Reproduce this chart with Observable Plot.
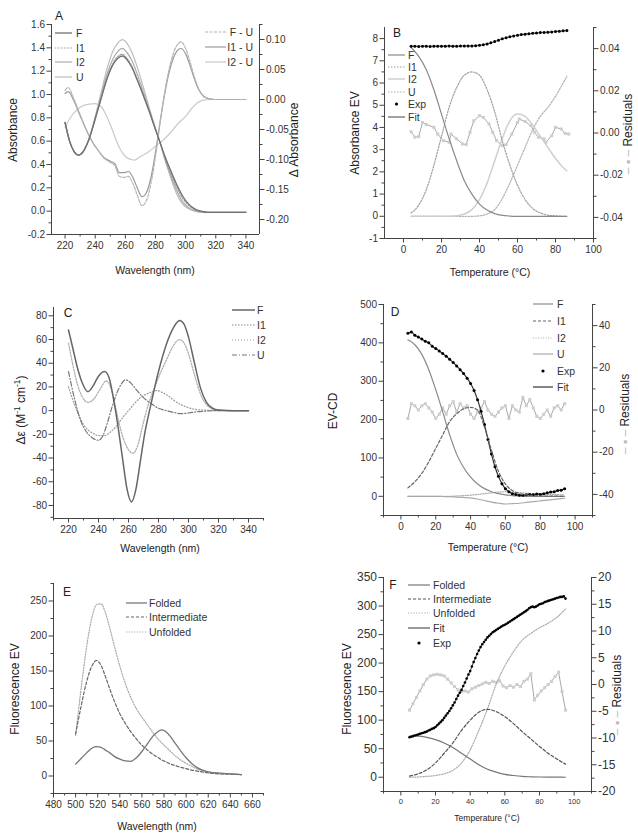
<!DOCTYPE html>
<html><head><meta charset="utf-8">
<script src="https://cdn.jsdelivr.net/npm/d3@7"></script>
<script src="https://cdn.jsdelivr.net/npm/@observablehq/plot@0.6"></script>
<style>
html,body{margin:0;padding:0;background:#fff;}
#fig{position:relative;width:638px;height:837px;overflow:hidden;background:#fff;font-family:"Liberation Sans",Arial,Helvetica,sans-serif;color:#222;}
#fig > svg{position:absolute;}
.lbl{position:absolute;white-space:nowrap;line-height:1;}
.samp{color:#b8b8b8;}
</style></head><body><div id="fig"></div>
<script>
// ================= DATA =================
// ---- Panel A : absorbance spectra (left axis) and difference spectra (right axis)
const wlA   = [220,223,226,229,232,236,240,244,248,252,255,258,261,264,268,272,276,280,283,286,290,294,298,302,306,310,315,320,330,340];
const absF  = [0.76,0.60,0.51,0.48,0.51,0.62,0.79,0.97,1.14,1.26,1.31,1.33,1.30,1.24,1.12,0.99,0.85,0.70,0.59,0.48,0.35,0.23,0.13,0.06,0.02,0.00,-0.01,-0.01,-0.01,-0.01];
const absI1 = [0.76,0.60,0.51,0.48,0.51,0.62,0.79,0.97,1.15,1.27,1.325,1.345,1.31,1.25,1.13,0.99,0.85,0.70,0.59,0.47,0.33,0.21,0.11,0.05,0.015,0.00,-0.01,-0.01,-0.01,-0.01];
const absI2 = [0.76,0.60,0.51,0.48,0.51,0.62,0.80,0.99,1.18,1.31,1.37,1.395,1.36,1.30,1.17,1.02,0.86,0.70,0.59,0.46,0.31,0.18,0.08,0.03,0.005,-0.005,-0.01,-0.01,-0.01,-0.01];
const absU  = [0.76,0.60,0.51,0.48,0.51,0.63,0.81,1.02,1.23,1.38,1.44,1.47,1.44,1.37,1.23,1.06,0.88,0.71,0.59,0.45,0.29,0.15,0.06,0.02,0.00,-0.01,-0.01,-0.01,-0.01,-0.01];
const wlDiff = [220,222,226,230,234,238,242,246,250,253,256,259,262,265,268,271,274,277,280,283,286,289,292,295,297,300,303,306,309,312,316,320,330,340];
const diffFU  = [0.015,0.02,0,-0.025,-0.05,-0.07,-0.085,-0.098,-0.105,-0.11,-0.128,-0.13,-0.128,-0.14,-0.16,-0.177,-0.168,-0.14,-0.095,-0.04,0.01,0.05,0.078,0.093,0.096,0.085,0.062,0.036,0.016,0.006,0.001,0,0,0];
const diffI1U = [0.01,0.013,-0.003,-0.027,-0.05,-0.07,-0.085,-0.097,-0.103,-0.107,-0.122,-0.122,-0.12,-0.13,-0.148,-0.162,-0.155,-0.13,-0.088,-0.038,0.008,0.045,0.07,0.083,0.085,0.076,0.056,0.033,0.015,0.005,0.001,0,0,0];
const wlDiff2 = [220,225,230,235,240,244,248,252,256,260,264,266,270,275,280,285,290,295,300,304,308,312,316,320,330,340];
const diffI2U = [-0.046,-0.025,-0.013,-0.008,-0.007,-0.012,-0.03,-0.055,-0.08,-0.095,-0.1,-0.101,-0.095,-0.088,-0.078,-0.068,-0.055,-0.04,-0.028,-0.015,-0.005,-0.001,0,0,0,0];
const xTicksA = [220,240,260,280,300,320,340], xMinorA = [230,250,270,290,310,330];
const yTicksA = [-0.2,0,0.2,0.4,0.6,0.8,1.0,1.2,1.4,1.6], yMinorA = [-0.1,0.1,0.3,0.5,0.7,0.9,1.1,1.3,1.5];
const rTicksA = [-0.2,-0.15,-0.1,-0.05,0,0.05,0.1], rMinorA = [-0.175,-0.125,-0.075,-0.025,0.025,0.075,0.125];

// ---- Panel B : absorbance EV vs temperature
const tB   = [4,8,12,16,20,24,28,32,36,40,44,48,52,56,60,64,68,72,76,80,84,86];
const bF   = [7.6,7.2,6.6,5.7,4.6,3.5,2.5,1.6,1.0,0.55,0.28,0.12,0.04,0.01,0,0,0,0,0,0,0,0];
const bI1  = [0.15,0.5,1.2,2.3,3.6,4.9,5.8,6.35,6.5,6.35,5.7,4.7,3.4,2.3,1.4,0.75,0.35,0.15,0.05,0.02,0,0];
const bI2  = [0,0,0,0,0,0,0.02,0.1,0.3,0.75,1.5,2.5,3.5,4.3,4.6,4.5,4.1,3.6,3.1,2.6,2.2,2.05];
const bU   = [0,0,0,0,0,0,0,0,0,0.02,0.1,0.3,0.8,1.5,2.3,3.1,3.9,4.5,4.9,5.4,6.0,6.3];
const tExpB = [4,6,8,10,12,14,16,18,20,22,24,26,28,30,32,34,36,38,40,42,44,46,48,50,52,54,56,58,60,62,64,66,68,70,72,74,76,78,80,82,84,86];
const expB  = [7.66,7.66,7.65,7.66,7.66,7.65,7.66,7.66,7.66,7.66,7.67,7.66,7.66,7.67,7.67,7.67,7.67,7.68,7.70,7.72,7.76,7.81,7.87,7.93,7.99,8.04,8.08,8.12,8.15,8.18,8.20,8.22,8.24,8.25,8.27,8.28,8.29,8.30,8.32,8.33,8.35,8.36];
const tResB = [4,6,8,10,12,16,18,21,24,25,28,31,33,35,37,40,42,45,47,49,52,54,57,60,61,64,67,69,71,74,75,78,80,83,85,87];
const resB  = [0.0006,-0.002,-0.0017,0.005,0.004,0.0027,-0.0005,-0.0036,-0.0044,-0.0005,-0.0028,-0.0052,-0.0055,0.0003,0.0058,0.0082,0.0074,0.0043,0.0003,-0.0036,-0.006,-0.0055,-0.0005,0.005,0.0066,0.0055,0.0035,0.0003,-0.002,-0.0028,-0.0044,-0.0013,0.0027,0.0019,-0.0002,-0.0005];
const xTicksB = [0,20,40,60,80,100], xMinorB = [10,30,50,70,90];
const yTicksB = [-1,0,1,2,3,4,5,6,7,8], yMinorB = [-0.5,0.5,1.5,2.5,3.5,4.5,5.5,6.5,7.5];
const rTicksB = [-0.04,-0.02,0,0.02,0.04], rMinorB = [-0.05,-0.03,-0.01,0.01,0.03,0.05];

// ---- Panel C : CD spectra
const wlC  = [220,223,226,229,233,236,240,244,247,250,252,256,259,262,265,268,271,274,277,280,285,290,294,297,300,304,308,312,316,320,330,340];
const cF   = [68,52,36,24,16,20,29,33,28,10,-5,-40,-66,-77,-66,-42,-18,0,17,33,55,70,76,73,62,40,19,7,2,0.5,0,0];
const wlC1 = [220,223,226,229,233,237,241,245,248,251,254,257,260,263,266,269,272,276,280,285,290,294,297,300,304,308,312,316,320,330,340];
const cI1  = [57,38,22,12,7,10,18,25,20,5,-12,-25,-33,-36,-30,-15,0,15,28,42,55,60,57,48,30,14,5,1.5,0.5,0,0];
const wlC2 = [220,224,228,232,236,240,244,248,252,256,260,264,268,272,276,279,283,287,291,295,300,305,310,320,330,340];
const cI2  = [20,5,-7,-15,-19,-21,-21,-18,-13,-6,0,6,11,14,16,17,15,12,8,5,2.5,1,0.5,0,0,0];
const wlCU = [220,224,228,232,236,240,243,246,249,252,255,258,261,265,270,275,280,285,290,295,300,305,310,320,330,340];
const cU   = [33,10,-8,-18,-23,-25,-21,-10,3,14,22,26,24,18,11,6,2,0,-1.5,-2.5,-2,-1,-0.5,0,0,0];
const xTicksC = [220,240,260,280,300,320,340], xMinorC = [210,230,250,270,290,310,330,350];
const yTicksC = [-80,-60,-40,-20,0,20,40,60,80], yMinorC = [-90,-70,-50,-30,-10,10,30,50,70];

// ---- Panel D : EV-CD vs temperature
const tD   = [4,8,12,16,20,24,28,32,36,40,44,48,52,56,60,64,68,72,76,80,84,88,92,94];
const dF   = [408,395,370,330,278,220,160,110,75,50,32,20,12,7,4,2,1,0,0,0,0,0,0,0];
const dI1  = [22,38,60,90,125,160,195,215,228,232,225,180,120,65,32,15,7,4,2,1,0.5,0.5,0,0];
const dI2  = [0,0,0,0,0,0,0,1,2,3,5,7,9,11,12,11,10,8,7,6,5,5,4,4];
const dU   = [0,0,0,0,0,-0.5,-1,-2,-3,-4,-7,-11,-15,-18,-20,-19,-18,-16,-14,-12,-10,-8,-6,-5];
const tExpD = [4,6,8,10,12,14,16,18,20,22,24,26,28,30,32,34,36,38,40,42,44,46,48,50,52,54,56,58,60,62,64,66,68,70,72,74,76,78,80,82,84,86,88,90,92,94];
const expD  = [425,428,420,415,410,404,400,391,385,379,372,365,357,349,340,330,320,308,294,276,252,222,187,148,110,77,52,33,20,12,7,5,3,3,4,5,4,6,5,7,9,11,12,15,16,20];
const resD  = [-4,3,2,0,2,3,1,-1,-4,-2,1,-2,2,4,-1,3,1,2,-2,-4,-1,1,4,0,-2,-3,-1,1,2,-4,2,0,-1,6,2,5,1,-3,-4,-2,0,-3,1,2,0,3];
const xTicksD = [0,20,40,60,80,100], xMinorD = [-10,10,30,50,70,90,110];
const yTicksD = [0,100,200,300,400,500], yMinorD = [-50,50,150,250,350,450];
const rTicksD = [-40,-20,0,20,40], rMinorD = [-50,-30,-10,10,30,50];

// ---- Panel E : fluorescence spectra
const wlE   = [500,505,510,515,519,523,527,531,535,540,545,550,555,560,565,570,575,578,582,586,590,595,600,605,610,620,630,640,650];
const eFold = [17,25,33,40,42,41,37,33,28,24,21.5,21,26,35,46,57,64,66,63,56,47,36,26,18,12,6,4,3,2];
const eInt  = [60,100,135,158,165,158,142,124,107,89,75,63,53,44,37,31,26,23,20,17,15,12.5,10.5,8.5,7,4.5,3,2.5,2];
const eUnf  = [58,125,185,228,245,246,233,211,186,157,132,112,96,84,73,62,52,47,41,35,29,23,18,14,10,6,4,3,2];
const xTicksE = [480,500,520,540,560,580,600,620,640,660], xMinorE = [490,510,530,550,570,590,610,630,650,670];
const yTicksE = [0,50,100,150,200,250], yMinorE = [-25,25,75,125,175,225,275];

// ---- Panel F : fluorescence EV vs temperature
const tF    = [5,10,15,20,25,30,35,40,45,50,55,60,65,70,75,80,85,90,95];
const fFold = [72,72,70,66,60,52,42,32,22,14,9,5,3,1.5,0.8,0.4,0.2,0.1,0];
const fInt  = [2,6,13,25,42,60,82,100,114,119,115,106,94,80,67,54,42,32,23];
const fUnf  = [0,0.5,1.5,3,6,12,25,48,82,120,163,195,220,240,252,262,270,280,295];
const tExpF = [5,6,7,8,9,10,11,12,13,14,15,16,17,18,19,20,21,22,23,24,25,26,27,28,29,30,31,32,33,34,35,36,37,38,39,40,41,42,43,44,45,46,47,48,49,50,51,52,53,54,55,56,57,58,59,60,61,62,63,64,65,66,67,68,69,70,71,72,73,74,75,76,77,78,79,80,81,82,83,84,85,86,87,88,89,90,91,92,93,94,95];
const expF  = [70,71,72,73,74,75,76,77,78,79,
               80,82,83,85,86,88,91,94,97,100,
               104,108,112,116,121,126,131,137,143,148,
               153,160,166,173,180,186,194,202,209,216,
               222,228,233,237,241,245,248,251,254,256,
               258,260,262,264,266,267,269,271,273,275,
               277,279,281,283,285,287,289,291,293,296,
               298,299,298,299,301,303,304,305,307,308,
               309,310,311,312,313,314,315,316,316,317,
               313];
const tResF = [5,7,9,11,13,15,17,19,21,23,25,27,29,31,33,35,37,39,41,43,45,47,49,51,53,55,57,59,61,63,65,67,69,71,73,75,77,79,81,83,85,87,89,91,93,95];
const resF  = [-4.8,-3.6,-2.4,-1.2,0,1.0,1.6,1.8,1.9,1.8,
               1.6,1.0,0.3,-0.4,-1.0,-1.3,-1.2,-1.4,-0.8,-0.5,
               -0.2,0.1,0.4,0.2,0.6,0.4,0.7,-0.3,-0.6,-0.2,
               -0.5,0.0,-0.4,0.6,1.0,2.0,-2.9,-2.0,-1.2,-0.6,
               0.0,0.6,1.5,2.3,-1.3,-4.8];
const xTicksF = [0,20,40,60,80,100], xMinorF = [-10,10,30,50,70,90,110];
const yTicksF = [0,50,100,150,200,250,300,350], yMinorF = [-25,25,75,125,175,225,275,325];
const rTicksF = [-20,-15,-10,-5,0,5,10,15,20], rMinorF = [-17.5,-12.5,-7.5,-2.5,2.5,7.5,12.5,17.5];

// ================= DRAWING =================
const fig = document.getElementById("fig");
const FONT = '"Liberation Sans", Arial, Helvetica, sans-serif';
const M = {l: 40, r: 40, t: 8, b: 30};
const AX = "#444";

function pts(xs, ys) { return xs.map((x, i) => ({x, y: ys[i]})); }
function ln(xs, ys, s) {
  return Plot.line(pts(xs, ys), {x: "x", y: "y", stroke: s.stroke, strokeWidth: s.w ?? 1.2,
    strokeDasharray: s.dash ?? null, curve: s.curve ?? "monotone-x"});
}
function dots(xs, ys, r = 1.4, fill = "#000", symbol = "circle") {
  return Plot.dot(pts(xs, ys), {x: "x", y: "y", r, fill, symbol});
}
function resid(xs, ys) {
  return [Plot.line(pts(xs, ys), {x: "x", y: "y", stroke: "#a8a8a8", strokeWidth: 1}),
          Plot.dot(pts(xs, ys), {x: "x", y: "y", r: 1.7, fill: "#cdcdcd", symbol: "square"})];
}
function put(svg, p) {
  svg.style.left = (p.fx[0] - M.l) + "px";
  svg.style.top = (p.fy[0] - M.t) + "px";
  fig.append(svg);
}
function panel(p) {
  const W = p.fx[1] - p.fx[0] + M.l + M.r;
  const H = p.fy[1] - p.fy[0] + M.t + M.b;
  const base = {width: W, height: H, marginLeft: M.l, marginRight: M.r, marginTop: M.t, marginBottom: M.b,
    style: {background: "transparent", fontFamily: FONT, fontSize: "10px", color: "#333", overflow: "visible"}};
  if (p.rDomain) {
    const r = Plot.plot({...base, x: {domain: p.xDomain, axis: null}, y: {domain: p.rDomain},
      marks: [
        ...p.rMarks,
        Plot.ruleX([p.xDomain[1]], {stroke: AX}),
        Plot.axisY(p.rMinor, {anchor: "right", tickSize: 2.5, tickFormat: () => "", label: null, stroke: AX}),
        Plot.axisY(p.rMajor, {anchor: "right", tickSize: 4.5, tickPadding: 2, tickFormat: p.rFmt, label: null, stroke: AX, fontSize: p.rFont ?? 10})]});
    put(r, p);
  }
  const m = Plot.plot({...base, x: {domain: p.xDomain}, y: {domain: p.yDomain},
    marks: [
      ...p.marks,
      Plot.ruleX([p.xDomain[0]], {stroke: AX}),
      Plot.ruleY([p.yDomain[0]], {stroke: AX}),
      Plot.axisX(p.xMinor, {tickSize: 2.5, tickFormat: () => "", label: null, stroke: AX}),
      Plot.axisX(p.xMajor, {tickSize: 4.5, tickPadding: 3, tickFormat: d => String(d), label: null, stroke: AX, fontSize: p.xFont ?? 10}),
      Plot.axisY(p.yMinor, {tickSize: 2.5, tickFormat: () => "", label: null, stroke: AX}),
      Plot.axisY(p.yMajor, {tickSize: 4.5, tickPadding: 2, tickFormat: p.yFmt ?? (d => String(d)), label: null, stroke: AX, fontSize: p.yFont ?? 10})]});
  put(m, p);
}

// styles
const S = {
  aF: {stroke: "#707070", w: 1.3}, aI1: {stroke: "#9a9a9a", dash: "1.5,1.5"}, aI2: {stroke: "#ababab"}, aU: {stroke: "#bdbdbd"},
  aFU: {stroke: "#b5b5b5", dash: "3,1.5"}, aI1U: {stroke: "#9a9a9a"}, aI2U: {stroke: "#cacaca"},
  bF: {stroke: "#8a8a8a"}, bI1: {stroke: "#a0a0a0", dash: "1.5,1.5"}, bI2: {stroke: "#cfcfcf", w: 1.5}, bU: {stroke: "#b0b0b0", dash: "1.5,1.5"}, bFit: {stroke: "#666"},
  cF: {stroke: "#666", w: 1.5}, cI1: {stroke: "#b0b0b0", dash: "1.5,1.5", w: 1.3}, cI2: {stroke: "#9a9a9a", dash: "1,2"}, cU: {stroke: "#777", dash: "5,2,1,2"},
  dF: {stroke: "#8a8a8a"}, dI1: {stroke: "#666", dash: "3,2"}, dI2: {stroke: "#aaa", dash: "1,1.5"}, dU: {stroke: "#aaa"}, dFit: {stroke: "#333"},
  eF: {stroke: "#777", w: 1.3}, eI: {stroke: "#666", dash: "3,2"}, eU: {stroke: "#aaa", dash: "1.2,1.5"},
  fF: {stroke: "#777"}, fI: {stroke: "#555", dash: "3,2"}, fU: {stroke: "#aaa", dash: "1.2,1.5"}, fFit: {stroke: "#555"}
};

// Panel A
panel({fx: [51, 259], fy: [24, 234], xDomain: [211, 349], yDomain: [-0.2, 1.6], rDomain: [-0.225, 0.125],
  xMajor: xTicksA, xMinor: xMinorA, yMajor: yTicksA, yMinor: yMinorA, rMajor: rTicksA, rMinor: rMinorA,
  yFmt: d => d.toFixed(1), rFmt: d => d.toFixed(2),
  marks: [ln(wlA, absU, S.aU), ln(wlA, absI2, S.aI2), ln(wlA, absI1, S.aI1), ln(wlA, absF, S.aF)],
  rMarks: [ln(wlDiff2, diffI2U, S.aI2U), ln(wlDiff, diffI1U, S.aI1U), ln(wlDiff, diffFU, S.aFU)]});

// Panel B
panel({fx: [384, 593], fy: [27, 238], xDomain: [-10, 100], yDomain: [-1, 8.5], rDomain: [-0.05, 0.05],
  xMajor: xTicksB, xMinor: xMinorB, yMajor: yTicksB, yMinor: yMinorB, rMajor: rTicksB, rMinor: rMinorB,
  rFmt: d => d.toFixed(2),
  marks: [ln(tB, bU, S.bU), ln(tB, bI2, S.bI2), ln(tB, bI1, S.bI1), ln(tB, bF, S.bF),
          ln(tExpB, expB, S.bFit), dots(tExpB, expB, 1.5)],
  rMarks: resid(tResB, resB)});

// Panel C
panel({fx: [53, 263], fy: [307, 518], xDomain: [210, 350], yDomain: [-91, 87],
  xMajor: xTicksC, xMinor: xMinorC, yMajor: yTicksC, yMinor: yMinorC,
  marks: [ln(wlC2, cI2, S.cI2), ln(wlC1, cI1, S.cI1), ln(wlCU, cU, S.cU), ln(wlC, cF, S.cF)]});

// Panel D
panel({fx: [383, 592], fy: [304, 515], xDomain: [-10, 110], yDomain: [-50, 500], rDomain: [-50, 50],
  xMajor: xTicksD, xMinor: xMinorD, yMajor: yTicksD, yMinor: yMinorD, rMajor: rTicksD, rMinor: rMinorD,
  rFmt: d => String(d),
  marks: [ln(tD, dU, S.dU), ln(tD, dI2, S.dI2), ln(tD, dF, S.dF), ln(tExpD, expD, S.dFit), dots(tExpD, expD, 1.5), ln(tD, dI1, S.dI1)],
  rMarks: resid(tExpD, resD)});

// Panel E
panel({fx: [53, 263], fy: [583, 793], xDomain: [480, 670], yDomain: [-25, 275],
  xMajor: xTicksE, xMinor: xMinorE, yMajor: yTicksE, yMinor: yMinorE,
  marks: [ln(wlE, eUnf, S.eU), ln(wlE, eInt, S.eI), ln(wlE, eFold, S.eF)]});

// Panel F
panel({fx: [383, 591], fy: [577, 791], xDomain: [-10, 110], yDomain: [-25, 350], rDomain: [-20, 20],
  xMajor: xTicksF, xMinor: xMinorF, yMajor: yTicksF, yMinor: yMinorF, rMajor: rTicksF, rMinor: rMinorF,
  rFmt: d => String(d), xFont: 7.5, yFont: 12, rFont: 12,
  marks: [ln(tF, fUnf, S.fU), ln(tF, fInt, S.fI), ln(tF, fFold, S.fF), ln(tExpF, expF, S.fFit), dots(tExpF, expF, 1.3)],
  rMarks: resid(tResF, resF)});

// ---- axis titles & panel letters
function txt(html, cx, cy, size = 10.5, rot = false) {
  const d = document.createElement("div");
  d.className = "lbl";
  d.innerHTML = html;
  d.style.left = cx + "px"; d.style.top = cy + "px"; d.style.fontSize = size + "px";
  d.style.transform = "translate(-50%,-50%)" + (rot ? " rotate(-90deg)" : "");
  fig.append(d);
}
const RES = '<span class="samp">– ▪ –</span> Residuals';
txt("A", 59, 16, 12); txt("B", 397, 33, 12); txt("C", 68, 313, 12);
txt("D", 395, 312, 12); txt("E", 67, 592, 12); txt("F", 393, 585, 12);
txt("Absorbance", 13, 130, 12, true); txt("Δ Absorbance", 294, 140, 12, true); txt("Wavelength (nm)", 155, 270);
txt("Absorbance EV", 355, 133, 12, true); txt(RES, 628, 134, 12, true); txt("Temperature (°C)", 490, 272);
txt("Δε (M<sup style='font-size:70%'>-1</sup> cm<sup style='font-size:70%'>-1</sup>)", 20, 410, 12, true); txt("Wavelength (nm)", 160, 548);
txt("EV-CD", 333, 411, 12, true); txt(RES, 625, 414, 12, true); txt("Temperature (°C)", 488, 547);
txt("Fluorescence EV", 15, 689, 12, true); txt("Wavelength (nm)", 157, 826);
txt("Fluorescence EV", 347, 689, 12, true); txt(RES, 617, 695, 12, true); txt("Temperature (°C)", 487, 818, 8.5);

// ---- legends
const lg = d3.select(fig).append("svg").attr("width", 638).attr("height", 837)
  .style("left", "0px").style("top", "0px").style("pointer-events", "none")
  .attr("font-family", FONT).attr("font-size", 10.5).attr("fill", "#333");
function legend(items, x0, x1, tx, anchor = "start") {
  for (const it of items) {
    if (it.dot) lg.append("circle").attr("cx", (x0 + x1) / 2).attr("cy", it.y).attr("r", 1.6).attr("fill", "#000");
    else lg.append("line").attr("x1", x0).attr("x2", x1).attr("y1", it.y).attr("y2", it.y)
      .attr("stroke", it.s.stroke).attr("stroke-width", it.s.w ?? 1.2).attr("stroke-dasharray", it.s.dash ?? null);
    lg.append("text").attr("x", tx).attr("y", it.y).attr("dy", "0.35em").attr("text-anchor", anchor).text(it.label);
  }
}
legend([{y: 33, label: "F", s: S.aF}, {y: 48, label: "I1", s: S.aI1}, {y: 62, label: "I2", s: S.aI2}, {y: 77, label: "U", s: S.aU}], 55, 72, 76);
legend([{y: 32, label: "F - U", s: S.aFU}, {y: 47, label: "I1 - U", s: S.aI1U}, {y: 62, label: "I2 - U", s: S.aI2U}], 205, 226, 253, "end");
legend([{y: 55, label: "F", s: S.bF}, {y: 67, label: "I1", s: S.bI1}, {y: 79, label: "I2", s: S.bI2}, {y: 92, label: "U", s: S.bU},
        {y: 104, label: "Exp", dot: true}, {y: 117, label: "Fit", s: S.bFit}], 388, 405, 408);
legend([{y: 310, label: "F", s: S.cF}, {y: 325, label: "I1", s: S.cI1}, {y: 340, label: "I2", s: S.cI2}, {y: 355, label: "U", s: S.cU}], 232, 255, 257);
legend([{y: 304, label: "F", s: S.dF}, {y: 321, label: "I1", s: S.dI1}, {y: 338, label: "I2", s: S.dI2}, {y: 354, label: "U", s: S.dU},
        {y: 371, label: "Exp", dot: true}, {y: 387, label: "Fit", s: S.dFit}], 533, 553, 557);
legend([{y: 603, label: "Folded", s: S.eF}, {y: 617, label: "Intermediate", s: S.eI}, {y: 632, label: "Unfolded", s: S.eU}], 126, 147, 149);
legend([{y: 585, label: "Folded", s: S.fF}, {y: 599, label: "Intermediate", s: S.fI}, {y: 613, label: "Unfolded", s: S.fU},
        {y: 628, label: "Fit", s: S.fFit}, {y: 643, label: "Exp", dot: true}], 408, 430, 433);
</script></body></html>
